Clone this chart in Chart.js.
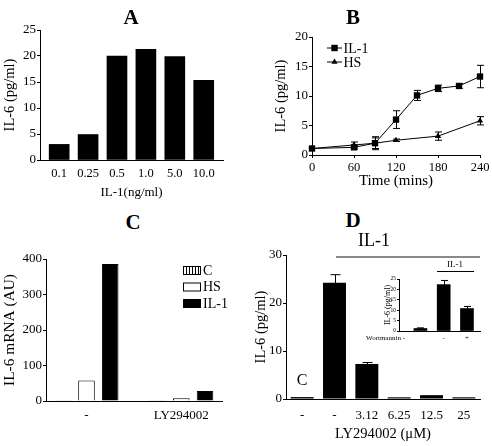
<!DOCTYPE html>
<html>
<head>
<meta charset="utf-8">
<script src="https://cdn.jsdelivr.net/npm/chart.js@4.4.1/dist/chart.umd.min.js"></script>
<style>
html, body { margin: 0; padding: 0; background: #fff; }
body { width: 492px; height: 446px; position: relative; overflow: hidden; font-family: "Liberation Serif", "Times New Roman", serif; color: #000; }
.box { position: absolute; }
.lbl { position: absolute; transform: translate(-50%, -50%); white-space: nowrap; line-height: 1; }
.letter { font-weight: bold; font-size: 21px; }
.rule { position: absolute; }
</style>
</head>
<body>
<div class="box" style="left:0;top:20px;width:240px;height:183px"><canvas id="chartA"></canvas></div>
<div class="box" style="left:262px;top:25px;width:230px;height:168px"><canvas id="chartB"></canvas></div>
<div class="box" style="left:0;top:240px;width:240px;height:188px"><canvas id="chartC"></canvas></div>
<div class="box" style="left:246px;top:235px;width:246px;height:210px"><canvas id="chartD"></canvas></div>
<div class="box" style="left:380px;top:270px;width:108px;height:74px"><canvas id="chartInset"></canvas></div>

<div class="lbl letter" style="left:131px;top:17px">A</div>
<div class="lbl letter" style="left:353px;top:17px">B</div>
<div class="lbl letter" style="left:133px;top:222px">C</div>
<div class="lbl letter" style="left:353px;top:220px">D</div>

<div class="lbl" style="left:374px;top:240px;font-size:18px">IL-1</div>
<div class="rule" style="left:336px;top:256px;width:144px;height:2px;background:#8a8a8a"></div>
<div class="lbl" style="left:302px;top:380px;font-size:16px">C</div>
<div class="lbl" style="left:455px;top:264px;font-size:9px">IL-1</div>
<div class="rule" style="left:437px;top:271px;width:37px;height:1px;background:#000"></div>
<div class="lbl" style="left:405px;top:338px;font-size:7px;transform:translate(-100%,-50%)">Wortmannin -</div>

<script>
Chart.defaults.font.family = '"Liberation Serif", "Times New Roman", serif';
Chart.defaults.color = '#000';
Chart.defaults.animation = false;
Chart.defaults.plugins.legend.display = false;
Chart.defaults.plugins.tooltip.enabled = false;

// A: IL-6 vs IL-1 dose
var doseLabels = ['0.1', '0.25', '0.5', '1.0', '5.0', '10.0'];
var doseIL6 = [3.0, 4.9, 20.0, 21.3, 19.9, 15.3];

// B: time course
var il1Times = [0, 60, 90, 120, 150, 180, 210, 240];
var il1IL6 = [1.1, 1.3, 2.0, 6.0, 10.1, 11.3, 11.7, 13.3];
var il1Err = [0, 0.3, 1.1, 1.5, 0.85, 0.55, 0.4, 1.9];
var hsTimes = [0, 60, 90, 120, 180, 240];
var hsIL6 = [1.1, 1.7, 2.0, 2.5, 3.2, 5.8];
var hsErr = [0, 0.5, 0.9, 0.2, 0.7, 0.7];

// C: mRNA
var mrnaGroups = ['-', 'LY294002'];
var mrnaC = [1, 1];
var mrnaHS = [58, 8];
var mrnaIL1 = [386, 28];

// D: LY294002 dose + wortmannin inset
var lyLabels = ['-', '-', '3.12', '6.25', '12.5', '25'];
var lyIL6 = [0.4, 24.2, 7.3, 0.35, 0.8, 0.35];
var lyErr = [0, 1.7, 0.3, 0, 0, 0];
var wortLabels = ['', '-', '+'];
var wortIL6 = [1.2, 22.3, 10.8];
var wortErr = [0.3, 2.0, 1.0];

var errorBars = {
  id: 'errorBars',
  afterDatasetsDraw: function (chart, args, opts) {
    var ctx = chart.ctx;
    chart.data.datasets.forEach(function (ds, di) {
      if (!ds.errors) return;
      var meta = chart.getDatasetMeta(di);
      var yScale = chart.scales[meta.yAxisID];
      ctx.save();
      ctx.strokeStyle = '#000';
      ctx.lineWidth = 1;
      meta.data.forEach(function (el, i) {
        var e = ds.errors[i];
        if (!e) return;
        var v = meta.controller.getParsed(i).y;
        var x = Math.round(el.x) + 0.5;
        var top = yScale.getPixelForValue(v + e);
        var bot = yScale.getPixelForValue(v - e);
        var w = opts.cap / 2;
        ctx.beginPath();
        ctx.moveTo(x, top); ctx.lineTo(x, bot);
        ctx.moveTo(x - w, top); ctx.lineTo(x + w, top);
        ctx.moveTo(x - w, bot); ctx.lineTo(x + w, bot);
        ctx.stroke();
      });
      ctx.restore();
    });
  }
};

function indexTicks(n) {
  return function (scale) {
    var t = [];
    for (var i = 0; i < n; i++) t.push({ value: i });
    scale.ticks = t;
  };
}

function yAxis(o) {
  return {
    min: o.min, max: o.max,
    ticks: { stepSize: o.step, font: { size: o.tickSize }, padding: 1, color: '#000' },
    grid: { drawOnChartArea: false, tickLength: o.tl || 3, color: '#000' },
    border: { color: '#000', width: 1 },
    title: { display: true, text: o.title, font: { size: o.titleSize }, padding: { top: o.titlePad || 0, bottom: 0 } },
    afterFit: function (s) { s.width = o.width; }
  };
}

// A
new Chart(document.getElementById('chartA'), {
  type: 'bar',
  data: {
    datasets: [{
      data: doseIL6.map(function (v, i) { return { x: i, y: v }; }),
      backgroundColor: '#000', borderColor: '#000', borderWidth: 0, barThickness: 20
    }]
  },
  options: {
    responsive: true, maintainAspectRatio: false,
    layout: { padding: { left: 0, top: 10, right: 17, bottom: 3 } },
    scales: {
      x: {
        type: 'linear', min: -0.663, max: 5.667, offset: false,
        afterBuildTicks: indexTicks(doseLabels.length),
        ticks: { font: { size: 12.5 }, padding: 6.5, maxRotation: 0, callback: function (v) { return doseLabels[v]; } },
        grid: { display: false, drawTicks: false, offset: false },
        border: { color: '#000', width: 1 },
        title: { display: true, text: 'IL-1(ng/ml)', font: { size: 13 }, padding: { top: 0, bottom: 0 } },
        afterFit: function (s) { s.height = 40; }
      },
      y: yAxis({ min: 0, max: 25, step: 5, tickSize: 13, title: 'IL-6 (pg/ml)', titleSize: 14.5, titlePad: 1, width: 40 })
    }
  },
  plugins: [errorBars]
});

// B
var legendB = {
  id: 'legendB',
  afterDraw: function (chart) {
    var ctx = chart.ctx, a = chart.chartArea;
    var x0 = a.left + 15, x1 = a.left + 30, mx = a.left + 22.5;
    var rows = [{ y: a.top + 11, text: 'IL-1', shape: 'rect' }, { y: a.top + 25, text: 'HS', shape: 'tri' }];
    ctx.save();
    ctx.strokeStyle = '#000'; ctx.fillStyle = '#000'; ctx.lineWidth = 1;
    rows.forEach(function (r) {
      ctx.beginPath(); ctx.moveTo(x0, r.y); ctx.lineTo(x1, r.y); ctx.stroke();
      ctx.beginPath();
      if (r.shape === 'rect') {
        ctx.rect(mx - 3.2, r.y - 3.2, 6.4, 6.4);
      } else {
        ctx.moveTo(mx, r.y - 3.5); ctx.lineTo(mx + 3.1, r.y + 1.8); ctx.lineTo(mx - 3.1, r.y + 1.8); ctx.closePath();
      }
      ctx.fill();
      ctx.font = '14px "Liberation Serif", serif';
      ctx.textBaseline = 'middle';
      ctx.fillText(r.text, x1 + 1.5, r.y + 1);
    });
    ctx.restore();
  }
};

new Chart(document.getElementById('chartB'), {
  type: 'line',
  data: {
    datasets: [{
      label: 'IL-1',
      data: il1Times.map(function (t, i) { return { x: t, y: il1IL6[i] }; }),
      errors: il1Err,
      borderColor: '#000', backgroundColor: '#000', borderWidth: 1,
      pointStyle: 'rect', pointRadius: 4.5, pointBorderWidth: 0, clip: false
    }, {
      label: 'HS',
      data: hsTimes.map(function (t, i) { return { x: t, y: hsIL6[i] }; }),
      errors: hsErr,
      borderColor: '#000', backgroundColor: '#000', borderWidth: 1,
      pointStyle: 'triangle', pointRadius: 3.6, pointBorderWidth: 0, clip: false
    }]
  },
  options: {
    responsive: true, maintainAspectRatio: false,
    layout: { padding: { left: 6, top: 12, right: 12, bottom: 3 } },
    scales: {
      x: {
        type: 'linear', min: 0, max: 240,
        ticks: { stepSize: 60, font: { size: 12.5 }, padding: 2.5, maxRotation: 0 },
        grid: { drawOnChartArea: false, tickLength: 3, color: '#000' },
        border: { color: '#000', width: 1 },
        title: { display: true, text: 'Time (mins)', font: { size: 15 }, padding: { top: 0, bottom: 0 } },
        afterFit: function (s) { s.height = 35; }
      },
      y: yAxis({ min: 0, max: 20, step: 5, tickSize: 13, title: 'IL-6 (pg/ml)', titleSize: 14.5, titlePad: 4, width: 44 })
    },
    plugins: { errorBars: { cap: 7 } }
  },
  plugins: [errorBars, legendB]
});

// C
function stripes() {
  var c = document.createElement('canvas');
  c.width = 3; c.height = 4;
  var g = c.getContext('2d');
  g.fillStyle = '#fff'; g.fillRect(0, 0, 3, 4);
  g.fillStyle = '#000'; g.fillRect(0, 0, 1, 4);
  return g.createPattern(c, 'repeat');
}
var stripeFill = stripes();

var legendC = {
  id: 'legendC',
  afterDraw: function (chart) {
    var ctx = chart.ctx, a = chart.chartArea;
    var bx = a.left + 137;
    ctx.save();
    ctx.font = '14px "Liberation Serif", serif';
    ctx.textBaseline = 'middle';
    chart.data.datasets.forEach(function (ds, i) {
      var by = a.top + 7 + i * 16.5;
      ctx.fillStyle = ds.backgroundColor;
      ctx.fillRect(bx, by, 18, 9);
      ctx.strokeStyle = '#000'; ctx.lineWidth = 1;
      ctx.strokeRect(bx + 0.5, by + 0.5, 17, 8);
      ctx.fillStyle = '#000';
      ctx.fillText(ds.label, bx + 20, by + 5);
    });
    ctx.restore();
  }
};

function groupData(vals) { return vals.map(function (v, i) { return { x: i, y: v }; }); }

new Chart(document.getElementById('chartC'), {
  type: 'bar',
  data: {
    datasets: [
      { label: 'C', data: groupData(mrnaC), backgroundColor: stripeFill, borderColor: '#000', borderWidth: 1 },
      { label: 'HS', data: groupData(mrnaHS), backgroundColor: '#fff', borderColor: '#000', borderWidth: 1 },
      { label: 'IL-1', data: groupData(mrnaIL1), backgroundColor: '#000', borderColor: '#000', borderWidth: 1 }
    ]
  },
  options: {
    responsive: true, maintainAspectRatio: false,
    categoryPercentage: 0.75, barPercentage: 0.7,
    layout: { padding: { left: 1, top: 19, right: 18, bottom: 2 } },
    scales: {
      x: {
        type: 'linear', min: -0.427, max: 1.429, offset: false,
        afterBuildTicks: indexTicks(mrnaGroups.length),
        ticks: { font: { size: 13 }, padding: 7, maxRotation: 0, callback: function (v) { return mrnaGroups[v]; } },
        grid: { display: false, drawTicks: false, offset: false },
        border: { color: '#000', width: 1 },
        afterFit: function (s) { s.height = 25; }
      },
      y: yAxis({ min: 0, max: 400, step: 100, tickSize: 13, title: 'IL-6 mRNA (AU)', titleSize: 15.4, titlePad: 0, width: 45 })
    }
  },
  plugins: [legendC]
});

// D
new Chart(document.getElementById('chartD'), {
  type: 'bar',
  data: {
    labels: lyLabels,
    datasets: [{ data: lyIL6, errors: lyErr, backgroundColor: '#000', borderWidth: 0 }]
  },
  options: {
    responsive: true, maintainAspectRatio: false,
    categoryPercentage: 1, barPercentage: 0.71,
    layout: { padding: { left: 2, top: 20, right: 12, bottom: 2 } },
    scales: {
      x: {
        ticks: { font: { size: 13 }, padding: 9, maxRotation: 0, autoSkip: false },
        grid: { display: false, drawTicks: false },
        border: { color: '#000', width: 1 },
        title: { display: true, text: 'LY294002 (μM)', font: { size: 14.6 }, padding: { top: 0, bottom: 0 } },
        afterFit: function (s) { s.height = 44; }
      },
      y: yAxis({ min: 0, max: 30, step: 10, tickSize: 13, title: 'IL-6 (pg/ml)', titleSize: 14.5, titlePad: 4, width: 38 })
    },
    plugins: { errorBars: { cap: 10 } }
  },
  plugins: [errorBars]
});

// D inset
new Chart(document.getElementById('chartInset'), {
  type: 'bar',
  data: {
    datasets: [{
      data: wortIL6.map(function (v, i) { return { x: i, y: v }; }),
      errors: wortErr, backgroundColor: '#000', borderWidth: 0, barThickness: 13
    }]
  },
  options: {
    responsive: true, maintainAspectRatio: false,
    layout: { padding: { left: 3, top: 9, right: 8, bottom: 1 } },
    scales: {
      x: {
        type: 'linear', min: -0.92, max: 2.56, offset: false,
        afterBuildTicks: indexTicks(wortLabels.length),
        ticks: { font: { size: 7 }, padding: 3.3, maxRotation: 0, callback: function (v) { return wortLabels[v]; } },
        grid: { display: false, drawTicks: false, offset: false },
        border: { color: '#000', width: 1 },
        afterFit: function (s) { s.height = 12; }
      },
      y: {
        min: 0, max: 25,
        ticks: { stepSize: 5, font: { size: 5.5 }, padding: 1 },
        grid: { drawOnChartArea: false, tickLength: 2, color: '#000' },
        border: { color: '#000', width: 1 },
        title: { display: true, text: 'IL-6 (pg/ml)', font: { size: 8 }, padding: { top: 0, bottom: 0 } },
        afterFit: function (s) { s.width = 16; }
      }
    },
    plugins: { errorBars: { cap: 7 } }
  },
  plugins: [errorBars]
});
</script>
</body>
</html>
